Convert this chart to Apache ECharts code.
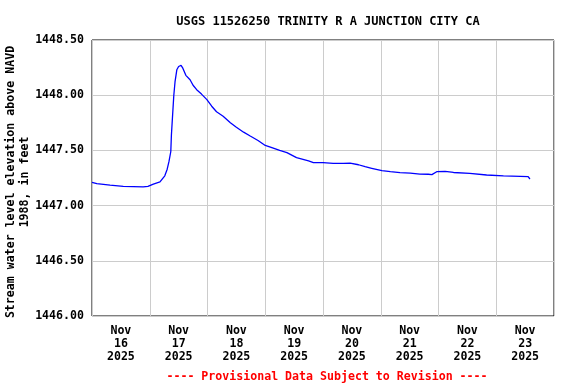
<!DOCTYPE html>
<html>
<head>
<meta charset="utf-8">
<script src="https://cdn.jsdelivr.net/npm/echarts@6/dist/echarts.min.js"></script>
<style>html,body{margin:0;padding:0;background:#fff}#c{width:576px;height:384px}</style>
</head>
<body>
<div id="c"></div>
<script>
const times = [
  "2025-11-16T00:00","2025-11-16T02:00","2025-11-16T07:30","2025-11-16T13:00","2025-11-16T21:15","2025-11-16T23:15",
  "2025-11-17T01:30","2025-11-17T04:15","2025-11-17T06:15","2025-11-17T07:15","2025-11-17T08:00","2025-11-17T08:45",
  "2025-11-17T09:00","2025-11-17T09:30","2025-11-17T10:00","2025-11-17T10:30","2025-11-17T11:15","2025-11-17T12:00",
  "2025-11-17T13:00","2025-11-17T13:45","2025-11-17T15:00","2025-11-17T16:45","2025-11-17T18:00","2025-11-17T19:30",
  "2025-11-17T21:30","2025-11-17T23:45","2025-11-18T01:45","2025-11-18T03:45","2025-11-18T06:30","2025-11-18T09:30",
  "2025-11-18T12:00","2025-11-18T15:00","2025-11-18T17:45","2025-11-18T21:00","2025-11-19T00:00","2025-11-19T02:45",
  "2025-11-19T06:00","2025-11-19T09:00","2025-11-19T13:00","2025-11-19T18:00","2025-11-19T20:00","2025-11-20T00:00",
  "2025-11-20T04:15","2025-11-20T08:30","2025-11-20T11:15","2025-11-20T14:45","2025-11-20T17:30","2025-11-20T20:15",
  "2025-11-21T00:30","2025-11-21T04:00","2025-11-21T08:00","2025-11-21T12:15","2025-11-21T16:15","2025-11-21T19:45",
  "2025-11-21T21:15","2025-11-21T23:15","2025-11-22T02:45","2025-11-22T06:15","2025-11-22T13:00","2025-11-22T20:00",
  "2025-11-23T03:00","2025-11-23T10:00","2025-11-23T13:15","2025-11-23T14:00"
];
const values = [
  1447.21,1447.20,1447.185,1447.175,1447.17,1447.175,
  1447.195,1447.215,1447.27,1447.33,1447.40,1447.49,
  1447.64,1447.82,1448.00,1448.12,1448.23,1448.26,
  1448.27,1448.245,1448.18,1448.14,1448.09,1448.05,
  1448.01,1447.96,1447.90,1447.85,1447.81,1447.75,
  1447.71,1447.665,1447.63,1447.59,1447.545,1447.525,
  1447.50,1447.48,1447.435,1447.405,1447.39,1447.39,
  1447.383,1447.383,1447.385,1447.37,1447.352,1447.338,
  1447.316,1447.307,1447.298,1447.295,1447.285,1447.284,
  1447.281,1447.307,1447.31,1447.30,1447.292,1447.277,
  1447.27,1447.265,1447.262,1447.241
];
const dayLabels = ["Nov\n16\n2025","Nov\n17\n2025","Nov\n18\n2025","Nov\n19\n2025","Nov\n20\n2025","Nov\n21\n2025","Nov\n22\n2025","Nov\n23\n2025"];
const yTicks = [1446.0, 1446.5, 1447.0, 1447.5, 1448.0, 1448.5];

const FONT = "DejaVu Sans Mono";
const chart = echarts.init(document.getElementById('c'), null, {renderer: 'canvas'});
chart.setOption({
  animation: false,
  backgroundColor: '#fff',
  title: [{
    text: 'USGS 11526250 TRINITY R A JUNCTION CITY CA',
    left: 323, top: 11, textAlign: 'center',
    textStyle: {fontFamily: FONT, fontWeight: 'bold', fontSize: 12, color: '#000'}
  }, {
    text: '---- Provisional Data Subject to Revision ----',
    left: 322, top: 366, textAlign: 'center',
    textStyle: {fontFamily: FONT, fontWeight: 'bold', fontSize: 11.6, color: '#ff0000'}
  }],
  grid: {left: 92, right: 22, top: 40, bottom: 68, show: true, borderColor: '#000', borderWidth: 1, containLabel: false, outerBoundsMode: 'none'},
  xAxis: [{
    type: 'time',
    min: '2025-11-16T00:00', max: '2025-11-24T00:00',
    show: false
  }, {
    type: 'category',
    data: dayLabels,
    boundaryGap: true,
    position: 'bottom',
    axisLine: {show: false},
    axisTick: {show: false},
    splitLine: {show: true, lineStyle: {color: '#cccccc', width: 1}},
    axisLabel: {fontFamily: FONT, fontWeight: 'bold', fontSize: 11.6, color: '#000', lineHeight: 13, margin: 8, interval: 0}
  }],
  yAxis: {
    type: 'value',
    min: yTicks[0], max: yTicks[yTicks.length - 1], interval: 0.5,
    name: 'Stream water level elevation above NAVD\n1988, in feet',
    nameLocation: 'middle', nameGap: 60, nameRotate: 90, nameMoveOverlap: false,
    nameTextStyle: {fontFamily: FONT, fontWeight: 'bold', fontSize: 11.6, color: '#000', lineHeight: 14, align: 'center', padding: [0, 8, 0, 0]},
    axisLine: {show: false},
    axisTick: {show: false},
    splitLine: {show: true, lineStyle: {color: '#cccccc', width: 1}},
    axisLabel: {fontFamily: FONT, fontWeight: 'bold', fontSize: 11.6, color: '#000', margin: 8, formatter: v => v.toFixed(2)}
  },
  series: [{
    type: 'line',
    xAxisIndex: 0,
    data: times.map((t, i) => [t, values[i]]),
    showSymbol: false,
    lineStyle: {color: '#0000ff', width: 1.3},
    itemStyle: {color: '#0000ff'}
  }]
});
</script>
</body>
</html>
